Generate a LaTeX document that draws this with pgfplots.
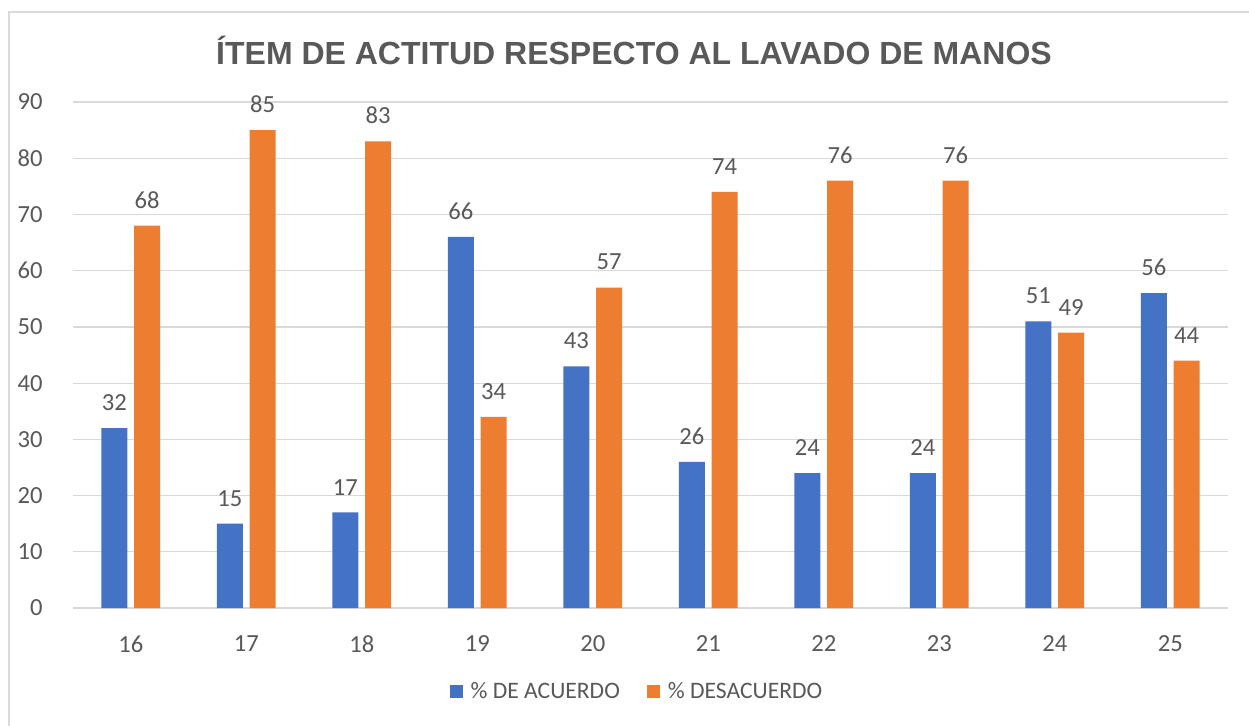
\documentclass[border=0pt]{standalone}
\usepackage{pgfplots}
\pgfplotsset{compat=1.18}
\usepackage{fontspec}
\setmainfont{Carlito}
\newfontfamily\titlefont{Liberation Sans}
\definecolor{cblue}{HTML}{4472C4}
\definecolor{corange}{HTML}{ED7D31}
\definecolor{ctext}{HTML}{595959}
\definecolor{cgrid}{HTML}{D9D9D9}
\begin{document}
\begin{tikzpicture}
\path[use as bounding box] (0,0) rectangle (624.5pt,362.5pt);
\fill[white] (0,0) rectangle (624.5pt,362.5pt);
\draw[cgrid, line width=0.75pt] (4.5pt,-1pt) -- (4.5pt,356.5pt) -- (630pt,356.5pt);
\node[text=ctext, font={\titlefont\bfseries\fontsize{16}{19}\selectfont}] at (317pt,337.5pt) {ÍTEM DE ACTITUD RESPECTO AL LAVADO DE MANOS};
\begin{axis}[
  at={(36.5pt,58.5pt)}, anchor=south west,
  scale only axis, width=577.5pt, height=253pt,
  xmin=-0.5, xmax=9.5, ymin=0, ymax=90,
  ybar, bar width=13pt,
  xtick={0,...,9},
  xticklabels={16,17,18,19,20,21,22,23,24,25},
  ytick={0,10,...,90},
  ymajorgrids, grid style={cgrid, line width=0.6pt},
  axis line style={draw=none},
  major tick length=0pt,
  clip=false,
  /pgf/number format/assume math mode=true,
  tick label style={text=ctext, font=\fontsize{12.3}{14}\selectfont, inner sep=0pt},
  yticklabel style={anchor=east, xshift=-15pt},
  xticklabel style={anchor=north, yshift=-13.5pt},
  nodes near coords,
  every node near coord/.append style={text=ctext, font=\fontsize{12.3}{14}\selectfont, inner sep=0pt, anchor=south, yshift=8.5pt},
  legend columns=2,
  legend style={draw=none, at={(0.4887,-0.166)}, anchor=center,
    font=\fontsize{11.8}{13}\selectfont, text=ctext,
    nodes={inner sep=1.5pt},
    /tikz/every odd column/.append style={column sep=2.5pt},
    /tikz/every even column/.append style={column sep=12pt}},
  legend image code/.code={\fill[#1] (-2pt,-3.25pt) rectangle (4.5pt,3.25pt);},
]
\addplot[fill=cblue, draw=none, bar shift=-8.2pt] coordinates {(0,32) (1,15) (2,17) (3,66) (4,43) (5,26) (6,24) (7,24) (8,51) (9,56)};
\addplot[fill=corange, draw=none, bar shift=8.2pt] coordinates {(0,68) (1,85) (2,83) (3,34) (4,57) (5,74) (6,76) (7,76) (8,49) (9,44)};
\legend{\% DE ACUERDO, \% DESACUERDO}
\end{axis}
\end{tikzpicture}
\end{document}
